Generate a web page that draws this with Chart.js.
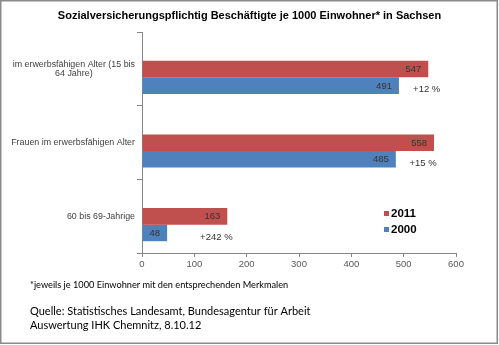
<!DOCTYPE html>
<html><head><meta charset="utf-8">
<script src="https://cdn.jsdelivr.net/npm/chart.js@4/dist/chart.umd.min.js"></script>
<style>html,body{margin:0;padding:0;background:#fff;overflow:hidden;} #wrap{width:499px;height:345px;position:relative;}</style>
</head><body><div id="wrap"><canvas id="c" width="499" height="345"></canvas></div>
<script>
// ---- data ----
const categories = [["im erwerbsfähigen Alter (15 bis", "64 Jahre)"], ["Frauen im erwerbsfähigen Alter"], ["60 bis 69-Jahrige"]];
const seriesNames = ["2011", "2000"];
const values2011 = [547, 558, 163];
const values2000 = [491, 485, 48];
const changeLabels = ["+12 %", "+15 %", "+242 %"];
const changeAnchors = [518, 511, 111];
const xTickValues = [0, 100, 200, 300, 400, 500, 600];

const titleText = "Sozialversicherungspflichtig Beschäftigte je 1000 Einwohner* in Sachsen";
const footnote = "*jeweils je 1000 Einwohner mit den entsprechenden Merkmalen";
const sourceLines = ["Quelle: Statistisches Landesamt, Bundesagentur für Arbeit", "Auswertung IHK Chemnitz, 8.10.12"];

// ---- styles ----
const RED = '#C0504D', BLUE = '#4F81BD', AXIS = '#868686';
const BAR_SHIFT = 0.615; // bars sit slightly below the centre of each category band

function toPoints(vals) { return vals.map((v, i) => ({ x: v, y: i + BAR_SHIFT })); }

const overlay = {
  id: 'overlay',
  afterDraw(chart) {
    const ctx = chart.ctx;
    const xs = chart.scales.x, ys = chart.scales.y, ca = chart.chartArea;
    ctx.save();
    // title
    ctx.fillStyle = '#000';
    ctx.font = 'bold 11px "Liberation Sans", Arial, sans-serif';
    ctx.textAlign = 'center'; ctx.textBaseline = 'middle';
    ctx.fillText(titleText, 249.5, 16);

    // category labels
    ctx.fillStyle = '#404040';
    ctx.font = '8.9px "Liberation Sans", Arial, sans-serif';
    const right = ca.left - 7, lh = 9.5;
    categories.forEach((lines, i) => {
      const cy = ys.getPixelForValue(i + 0.5);
      const maxW = Math.max(...lines.map(l => ctx.measureText(l).width));
      const cx = right - maxW / 2;
      ctx.textAlign = 'center';
      lines.forEach((l, k) => {
        ctx.fillText(l, cx, cy + (k - (lines.length - 1) / 2) * lh);
      });
    });

    // value labels inside bar end
    ctx.textAlign = 'right';
    ctx.fillStyle = '#333';
    ctx.font = '9.5px "Liberation Sans", Arial, sans-serif';
    chart.data.datasets.forEach((ds, d) => {
      const meta = chart.getDatasetMeta(d);
      meta.data.forEach((bar, i) => {
        ctx.fillText(String(ds.data[i].x), bar.x - 7, bar.y + 0.5);
      });
    });

    // change labels
    ctx.textAlign = 'left';
    const blueMeta = chart.getDatasetMeta(1);
    changeLabels.forEach((t, i) => {
      const bx = xs.getPixelForValue(changeAnchors[i]);
      const by = blueMeta.data[i].y + 4;
      ctx.fillText(t, bx, by);
    });

    // legend
    const legColors = [RED, BLUE];
    ctx.font = 'bold 11.5px "Liberation Sans", Arial, sans-serif';
    seriesNames.forEach((n, k) => {
      const y = 213.5 + k * 16;
      ctx.fillStyle = legColors[k];
      ctx.fillRect(384, y - 2.5, 5, 5);
      ctx.fillStyle = '#000';
      ctx.textAlign = 'left';
      ctx.fillText(n, 391, y + 0.5);
    });

    // footnote and source
    ctx.textAlign = 'left';
    ctx.fillStyle = '#000';
    ctx.font = '9.2px Lato, "Open Sans", sans-serif';
    ctx.fillText(footnote, 30, 285);
    ctx.font = '11px Lato, "Open Sans", sans-serif';
    ctx.fillText(sourceLines[0], 30, 311.5);
    ctx.fillText(sourceLines[1], 30, 325);

    // frame
    ctx.strokeStyle = '#8a8a8a';
    ctx.lineWidth = 1.5;
    ctx.strokeRect(0.75, 0.75, 496.5, 342.5);
    ctx.restore();
  }
};

new Chart(document.getElementById('c'), {
  type: 'bar',
  data: {
    datasets: [
      { label: seriesNames[0], data: toPoints(values2011), backgroundColor: RED, categoryPercentage: 0.45, barPercentage: 1 },
      { label: seriesNames[1], data: toPoints(values2000), backgroundColor: BLUE, categoryPercentage: 0.45, barPercentage: 1 }
    ]
  },
  options: {
    responsive: false,
    animation: false,
    indexAxis: 'y',
    layout: { padding: { top: 32, right: 43, bottom: 0, left: 0 } },
    plugins: { legend: { display: false }, tooltip: { enabled: false }, title: { display: false } },
    scales: {
      x: {
        type: 'linear', min: 0, max: 600, offset: false,
        afterBuildTicks(s) { s.ticks = xTickValues.map(v => ({ value: v })); },
        ticks: { color: '#595959', font: { family: '"Liberation Sans", Arial, sans-serif', size: 9.5 }, padding: 2 },
        grid: { drawOnChartArea: false, tickLength: 4, color: AXIS, offset: false },
        border: { color: AXIS },
        afterFit(s) { s.height = 92; }
      },
      y: {
        type: 'linear', min: 0, max: 3, reverse: true, offset: false,
        ticks: { stepSize: 1, callback: () => '' },
        grid: { drawOnChartArea: false, tickLength: 5, color: AXIS, offset: false },
        border: { color: AXIS },
        afterFit(s) { s.width = 142; }
      }
    }
  },
  plugins: [overlay]
});
</script>
</body></html>
